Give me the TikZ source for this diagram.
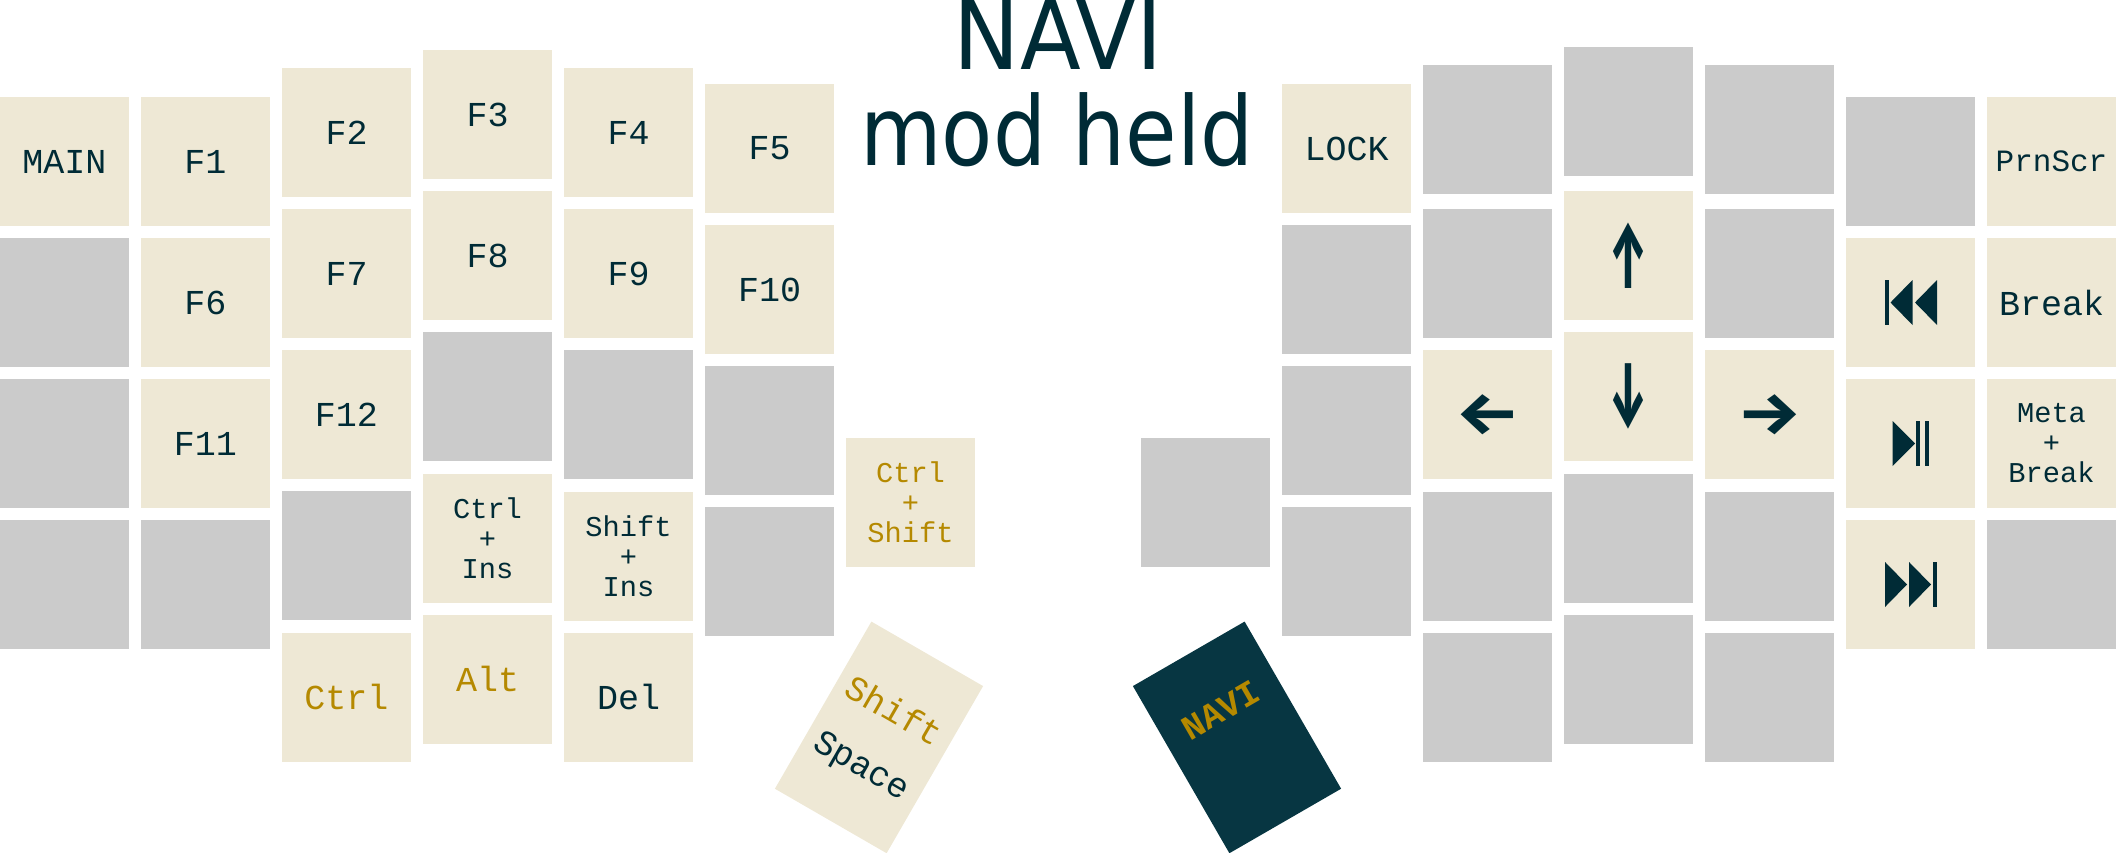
\documentclass[tikz,border=0pt]{standalone}
\usepackage{fontspec}
\usepackage{graphicx}
\usetikzlibrary{calc}
\setmonofont{Liberation Mono}
\newfontfamily\titlefont[FakeStretch=0.872]{DejaVu Sans}
\newfontfamily\capsfont[FakeStretch=0.925]{DejaVu Sans}
\newfontfamily\arrowfont{Fira Sans}
\definecolor{keybg}{HTML}{EEE8D5}
\definecolor{keygray}{HTML}{CBCBCB}
\definecolor{ink}{HTML}{002B36}
\definecolor{deep}{HTML}{073642}
\definecolor{gold}{HTML}{B58900}
\tikzset{
  x=1pt,y=-1pt,
  keybase/.style={minimum width=129pt,minimum height=129pt,inner sep=0pt,outer sep=0pt,align=center,text=ink,font=\ttfamily\fontsize{35}{30}\selectfont},
  fn/.style={keybase,fill=keybg},
  off/.style={keybase,fill=keygray},
  multi/.style={font=\ttfamily\fontsize{28.7}{30}\selectfont},
  modk/.style={text=gold},
  thumb/.style={minimum width=129pt,minimum height=193pt,inner sep=0pt,outer sep=0pt},
  legend/.style={inner sep=0pt,outer sep=0pt,font=\ttfamily\fontsize{35}{35}\selectfont},
  titletext/.style={inner sep=0pt,outer sep=0pt,anchor=base,text=ink,font=\titlefont\fontsize{96}{96}\selectfont},
  arrowglyph/.style={inner sep=0pt,outer sep=0pt,text=ink,font=\arrowfont\bfseries\fontsize{60}{60}\selectfont},
  icon/.style={fill=ink,draw=none}
}
\newcommand{\kk}[5][]{\node[#1] (#2) at ({#3+64.5},{#4+64.5}) {#5};}
\newcommand{\harrow}[1]{\scalebox{1.2}[1]{#1}}
\newcommand{\varrow}[1]{\scalebox{0.74}[1.55]{#1}}
\begin{document}
\begin{tikzpicture}
\useasboundingbox (0,0) rectangle (2116,853);
\clip (0,0) rectangle (2116,853);
% left hand
\kk[fn]{a1}{0}{97}{MAIN}
\kk[off]{a2}{0}{238}{}
\kk[off]{a3}{0}{379}{}
\kk[off]{a4}{0}{520}{}
\kk[fn]{b1}{141}{97}{F1}
\kk[fn]{b2}{141}{238}{F6}
\kk[fn]{b3}{141}{379}{F11}
\kk[off]{b4}{141}{520}{}
\kk[fn]{c1}{282}{68}{F2}
\kk[fn]{c2}{282}{209}{F7}
\kk[fn]{c3}{282}{350}{F12}
\kk[off]{c4}{282}{491}{}
\kk[fn,modk]{c5}{282}{632.5}{Ctrl}
\kk[fn]{d1}{423}{50}{F3}
\kk[fn]{d2}{423}{191}{F8}
\kk[off]{d3}{423}{332}{}
\kk[fn,multi]{d4}{423}{473.5}{Ctrl\\+\\Ins}
\kk[fn,modk]{d5}{423}{614.5}{Alt}
\kk[fn]{e1}{564}{68}{F4}
\kk[fn]{e2}{564}{209}{F9}
\kk[off]{e3}{564}{350}{}
\kk[fn,multi]{e4}{564}{491.5}{Shift\\+\\Ins}
\kk[fn]{e5}{564}{632.5}{Del}
\kk[fn]{f1}{705}{84}{F5}
\kk[fn]{f2}{705}{225}{F10}
\kk[off]{f3}{705}{366}{}
\kk[off]{f4}{705}{507}{}
\kk[fn,multi,modk]{g1}{846}{437.5}{Ctrl\\+\\Shift}
% right hand
\kk[off]{h1}{1141}{437.5}{}
\kk[fn]{i1}{1282}{84}{LOCK}
\kk[off]{i2}{1282}{225}{}
\kk[off]{i3}{1282}{366}{}
\kk[off]{i4}{1282}{507}{}
\kk[off]{j1}{1423}{65}{}
\kk[off]{j2}{1423}{209}{}
\kk[fn]{j3}{1423}{350}{}
\kk[off]{j4}{1423}{491.5}{}
\kk[off]{j5}{1423}{632.5}{}
\kk[off]{k1}{1564}{47}{}
\kk[fn]{k2}{1564}{191}{}
\kk[fn]{k3}{1564}{332}{}
\kk[off]{k4}{1564}{473.5}{}
\kk[off]{k5}{1564}{614.5}{}
\kk[off]{l1}{1705}{65}{}
\kk[off]{l2}{1705}{209}{}
\kk[fn]{l3}{1705}{350}{}
\kk[off]{l4}{1705}{491.5}{}
\kk[off]{l5}{1705}{632.5}{}
\kk[off]{m1}{1846}{97}{}
\kk[fn]{m2}{1846}{238}{}
\kk[fn]{m3}{1846}{379}{}
\kk[fn]{m4}{1846}{520}{}
\kk[fn,font=\ttfamily\fontsize{31}{31}\selectfont]{n1}{1987}{97}{PrnScr}
\kk[fn]{n2}{1987}{238}{Break}
\kk[fn,multi]{n3}{1987}{379}{Meta\\+\\Break}
\kk[off]{n4}{1987}{520}{}
% arrow legends
\node[arrowglyph] (arl) at (j3.center) {\harrow{←}};
\node[arrowglyph] (aru) at (k2.center) {\varrow{↑}};
\node[arrowglyph] (ard) at (k3.center) {\varrow{↓}};
\node[arrowglyph] (arr) at (l3.center) {\harrow{→}};
% media icons
\begin{scope}[shift={(m2.center)}]
\fill[icon] (-25.5,-22.5) rectangle (-21.5,22.5);
\fill[icon] (2,-22.5) -- (-20,0) -- (2,22.5) -- cycle;
\fill[icon] (26.5,-22.5) -- (4.5,0) -- (26.5,22.5) -- cycle;
\end{scope}
\begin{scope}[shift={(m3.center)}]
\fill[icon] (-18,-22.5) -- (4.5,0) -- (-18,22.5) -- cycle;
\fill[icon] (5.5,-22.5) rectangle (9.5,22.5);
\fill[icon] (14.8,-22.5) rectangle (18.8,22.5);
\end{scope}
\begin{scope}[shift={(m4.center)}]
\fill[icon] (-25.5,-22.5) -- (-3.5,0) -- (-25.5,22.5) -- cycle;
\fill[icon] (-1.5,-22.5) -- (20.5,0) -- (-1.5,22.5) -- cycle;
\fill[icon] (22,-22.5) rectangle (26.5,22.5);
\end{scope}
% thumbs
\node[thumb,fill=keybg,rotate=-30] (tl) at (879,737.4) {};
\node[legend,text=gold,rotate=-30] (tl1) at ($(tl.center)+(15.5,-27)$) {Shift};
\node[legend,text=ink,rotate=-30] (tl2) at ($(tl.center)+(-18.5,30)$) {Space};
\node[thumb,fill=deep,rotate=30] (tr) at (1237,737.4) {};
\node[legend,text=gold,rotate=30,font=\ttfamily\bfseries\fontsize{35}{35}\selectfont] (tr1) at ($(tr.center)+(-16,-27)$) {NAVI};
% title
\node[titletext,font=\capsfont\fontsize{96}{96}\selectfont] (t1) at (1058,69.7) {NAVI};
\node[titletext] (t2) at (1057,165.7) {mod held};
\end{tikzpicture}
\end{document}
